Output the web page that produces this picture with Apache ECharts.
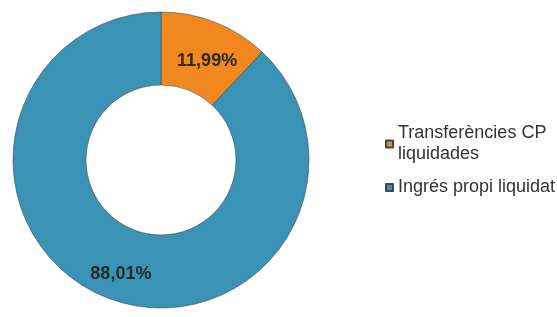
<!DOCTYPE html>
<html>
<head>
<meta charset="utf-8">
<script src="https://cdn.jsdelivr.net/npm/echarts@6/dist/echarts.min.js"></script>
<style>html,body{margin:0;padding:0;background:#fff;}#c{width:557px;height:317px;}</style>
</head>
<body>
<div id="c"></div>
<script>
const categories = ["Transferències CP\nliquidades", "Ingrés propi liquidat"];
const values = [11.99, 88.01];
const labels = ["11,99%", "88,01%"];
const colors = ["#F0871F", "#3A93B5"];

const chart = echarts.init(document.getElementById('c'), null, {renderer: 'canvas'});
chart.setOption({
  animation: false,
  color: colors,
  legend: {
    orient: 'vertical',
    left: 380,
    top: 118,
    itemWidth: 7,
    itemHeight: 7,
    itemGap: 12,
    icon: 'rect',
    data: categories,
    textStyle: {fontFamily: 'Liberation Sans', fontSize: 18, color: '#333', lineHeight: 21, padding: [0,0,0,0]}
  },
  series: [{
    type: 'pie',
    center: [161, 160],
    radius: [75, 148],
    startAngle: 90,
    clockwise: true,
    avoidLabelOverlap: false,
    itemStyle: {borderColor: '#3a4a50', borderWidth: 0.6},
    label: {
      position: 'inside',
      fontFamily: 'Liberation Sans',
      fontSize: 18,
      fontWeight: 'bold',
      color: '#2a2a2a',
      formatter: p => labels[p.dataIndex]
    },
    labelLine: {show: false},
    data: categories.map((c, i) => ({
      name: c,
      value: values[i],
      label: {offset: i === 0 ? [4, 8] : [2, 8]}
    }))
  }]
});
</script>
</body>
</html>
